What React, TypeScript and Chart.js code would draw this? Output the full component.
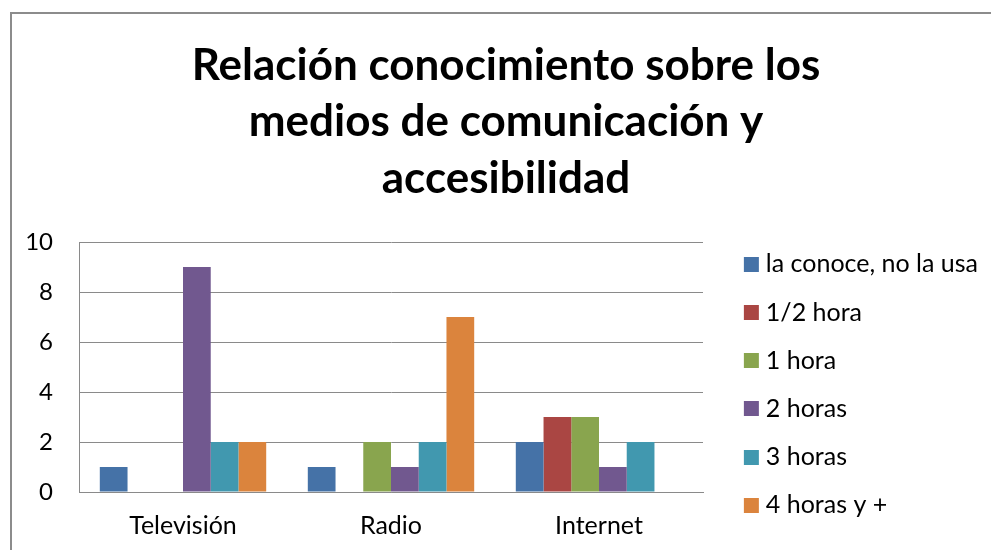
import React, { useEffect, useRef } from "react";
import { Chart, registerables } from "chart.js";

Chart.register(...registerables);

const categories = ["Televisión", "Radio", "Internet"];
const seriesLabels = [
  "la conoce, no la usa",
  "1/2 hora",
  "1 hora",
  "2 horas",
  "3 horas",
  "4 horas y +",
];
const conoceNoUsa = [1, 1, 2];
const mediaHora = [0, 0, 3];
const unaHora = [0, 2, 3];
const dosHoras = [9, 1, 1];
const tresHoras = [2, 2, 2];
const cuatroHoras = [2, 7, 0];
const seriesColors = ["#4572A7", "#AA4643", "#89A54E", "#71588F", "#4198AF", "#DB843D"];
const titleLines = ["Relación conocimiento sobre los", "medios de comunicación y", "accesibilidad"];
const yMin = 0;
const yMax = 10;
const yStep = 2;

const FONT = "Lato, 'Noto Sans', sans-serif";

const framePlugin = {
  id: "frame",
  beforeDraw(chart: any) {
    const ctx = chart.ctx;
    ctx.save();
    ctx.fillStyle = "#ffffff";
    ctx.fillRect(0, 0, chart.width, chart.height);
    ctx.strokeStyle = "#8c8c8c";
    ctx.lineWidth = 2;
    ctx.strokeRect(11, 13, chart.width + 50, chart.height + 50);
    ctx.restore();
  },
};

function makeSwatch(color: string): HTMLCanvasElement {
  // legend marker: a 15x15 square placed at the left part of a wider transparent image
  const c = document.createElement("canvas");
  c.width = 40;
  c.height = 15;
  const g = c.getContext("2d");
  if (g) {
    g.fillStyle = color;
    g.fillRect(15, 0, 15, 15);
  }
  return c;
}

export default function App() {
  const ref = useRef<HTMLCanvasElement | null>(null);

  useEffect(() => {
    if (!ref.current) return;
    const allSeries = [conoceNoUsa, mediaHora, unaHora, dosHoras, tresHoras, cuatroHoras];
    const swatches = seriesColors.map(makeSwatch);
    const chart = new Chart(ref.current, {
      type: "bar",
      data: {
        labels: categories,
        datasets: allSeries.map((d, i) => ({
          label: seriesLabels[i],
          data: d,
          backgroundColor: seriesColors[i],
          borderWidth: 0,
          categoryPercentage: 0.8,
          barPercentage: 1.0,
        })),
      },
      options: {
        animation: false,
        responsive: false,
        maintainAspectRatio: false,
        layout: { padding: { left: 24, right: 3, top: 0, bottom: 9 } },
        plugins: {
          tooltip: { enabled: false },
          title: {
            display: true,
            text: titleLines,
            color: "#000000",
            font: { family: FONT, size: 44, weight: "bold", lineHeight: 56.5 / 44 },
            padding: { top: 37.5, bottom: 35 },
          },
          legend: {
            display: true,
            position: "right",
            align: "end",
            maxWidth: 400,
            labels: {
              color: "#000000",
              font: { family: FONT, size: 25 },
              usePointStyle: true,
              boxWidth: 9,
              boxHeight: 15,
              padding: 23.2,
              generateLabels: (ch: any) => {
                const items = Chart.defaults.plugins.legend.labels.generateLabels(ch);
                return items.map((it: any, i: number) => ({
                  ...it,
                  pointStyle: swatches[i],
                  lineWidth: 0,
                  strokeStyle: "rgba(0,0,0,0)",
                }));
              },
            },
          },
        },
        scales: {
          x: {
            grid: { display: false, drawTicks: false },
            border: { display: true, color: "#8a8a8a", width: 1 },
            ticks: {
              color: "#000000",
              font: { family: FONT, size: 25 },
              padding: 19,
              maxRotation: 0,
            },
            afterFit: (s: any) => {
              s.height = 49;
            },
          },
          y: {
            min: yMin,
            max: yMax,
            grid: { display: true, color: "#8a8a8a", lineWidth: 1, drawTicks: false },
            border: { display: true, color: "#8a8a8a", width: 1 },
            ticks: {
              stepSize: yStep,
              color: "#000000",
              font: { family: FONT, size: 24 },
              padding: 26,
            },
            afterFit: (s: any) => {
              s.width = 55;
            },
          },
          y2: {
            position: "right",
            display: true,
            grid: { display: false, drawTicks: false },
            border: { display: false },
            ticks: { display: false },
            afterFit: (s: any) => {
              const lw = s.chart.legend ? s.chart.legend.width : 0;
              s.width = Math.max(0, s.chart.width - 3 - lw - 703);
            },
          },
        },
      },
      plugins: [framePlugin],
    });
    return () => chart.destroy();
  }, []);

  return (
    <div style={{ position: "absolute", left: 0, top: 0, width: 991, height: 550, overflow: "hidden" }}>
      <canvas ref={ref} width={991} height={550} style={{ width: 991, height: 550, display: "block" }} />
    </div>
  );
}
